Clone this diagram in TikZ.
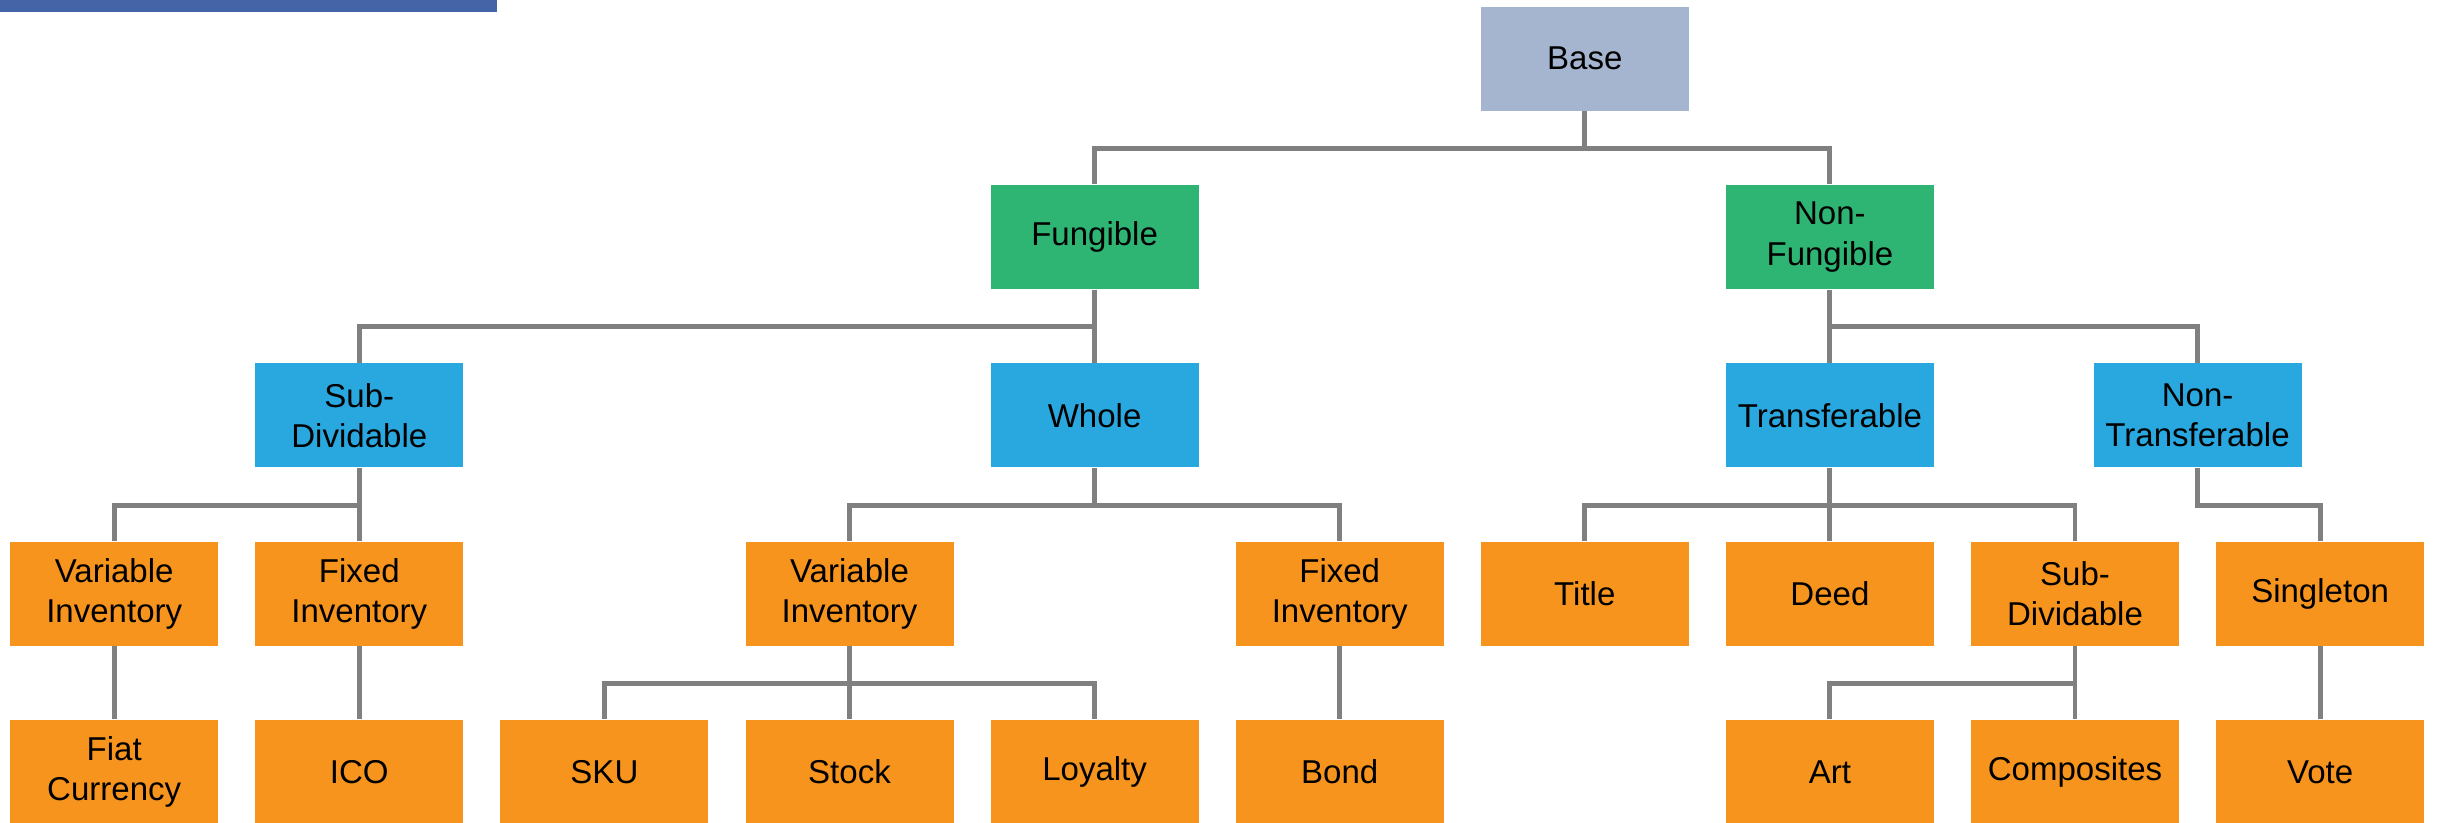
\documentclass[tikz,border=0pt]{standalone}
\usepackage{fontspec}
\setmainfont{Liberation Sans}
\usetikzlibrary{shapes, arrows, positioning}
\definecolor{basegray}{HTML}{A5B4CF}
\definecolor{kindgreen}{HTML}{2EB573}
\definecolor{modeblue}{HTML}{29A8E0}
\definecolor{leaforange}{HTML}{F7941E}
\definecolor{linegray}{HTML}{808080}
\definecolor{barblue}{HTML}{4464A7}
\tikzstyle{box} = [rectangle, minimum width=2.08cm, minimum height=1.04cm,
    inner sep=0pt, align=center, font=\fontsize{9.4}{11.4}\selectfont]
\tikzstyle{root} = [box, fill=basegray]
\tikzstyle{kind} = [box, fill=kindgreen]
\tikzstyle{mode} = [box, fill=modeblue]
\tikzstyle{leaf} = [box, fill=leaforange]
\tikzstyle{line} = [draw, linegray, line width=1.4pt]

\begin{document}
\begin{tikzpicture}[node distance = 2.451cm, auto]
        \useasboundingbox (-1.142,-2.293) rectangle (23.228,5.937);
        \fill [barblue] (-1.142,5.937) rectangle (3.828,5.817);
        % Third row
        \node [leaf] (varinvA) {Variable\\Inventory};
        \node [leaf, right of=varinvA] (fixinvA) {Fixed\\Inventory};
        \node [leaf, node distance=4.902cm, right of=fixinvA] (varinvB) {Variable\\Inventory};
        \node [leaf, node distance=4.902cm, right of=varinvB] (fixinvB) {Fixed\\Inventory};
        \node [leaf, right of=fixinvB] (title) {Title};
        \node [leaf, right of=title] (deed) {Deed};
        \node [leaf, right of=deed] (subdivB) {Sub-\\Dividable};
        \node [leaf, right of=subdivB] (singleton) {Singleton};
        % Bottom row
        \node [leaf, node distance=1.783cm, below of=varinvA] (fiat) {Fiat\\Currency};
        \node [leaf, node distance=1.783cm, below of=fixinvA] (ico) {ICO};
        \node [leaf, right of=ico] (sku) {SKU};
        \node [leaf, node distance=1.783cm, below of=varinvB] (stock) {Stock};
        \node [leaf, right of=stock] (loyalty) {Loyalty};
        \node [leaf, node distance=1.783cm, below of=fixinvB] (bond) {Bond};
        \node [leaf, node distance=1.783cm, below of=deed] (art) {Art};
        \node [leaf, node distance=1.783cm, below of=subdivB] (composites) {Composites};
        \node [leaf, node distance=1.783cm, below of=singleton] (vote) {Vote};
        % Upper rows
        \node [mode, node distance=1.783cm, above of=fixinvA] (subdivA) {Sub-\\Dividable};
        \node [mode, node distance=3.566cm, above of=loyalty] (whole) {Whole};
        \node [mode, node distance=1.783cm, above of=deed] (transferable) {Transferable};
        \node [mode, node distance=3.6765cm, right of=transferable] (nontransferable) {Non-\\Transferable};
        \node [kind, node distance=1.783cm, above of=whole] (fungible) {Fungible};
        \node [kind, node distance=1.783cm, above of=transferable] (nonfungible) {Non-\\Fungible};
        \node [root, node distance=5.349cm, above of=title] (base) {Base};
        % Draw edges
        \path [line] (base.south) -- ++(0,-0.3715) -| (fungible.north);
        \path [line] (base.south) -- ++(0,-0.3715) -| (nonfungible.north);
        \path [line] (fungible.south) -- ++(0,-0.3715) -| (subdivA.north);
        \path [line] (fungible.south) -- ++(0,-0.3715) -| (whole.north);
        \path [line] (nonfungible.south) -- ++(0,-0.3715) -| (transferable.north);
        \path [line] (nonfungible.south) -- ++(0,-0.3715) -| (nontransferable.north);
        \path [line] (subdivA.south) -- ++(0,-0.3715) -| (varinvA.north);
        \path [line] (subdivA.south) -- ++(0,-0.3715) -| (fixinvA.north);
        \path [line] (whole.south) -- ++(0,-0.3715) -| (varinvB.north);
        \path [line] (whole.south) -- ++(0,-0.3715) -| (fixinvB.north);
        \path [line] (transferable.south) -- ++(0,-0.3715) -| (title.north);
        \path [line] (transferable.south) -- ++(0,-0.3715) -| (deed.north);
        \path [line] (transferable.south) -- ++(0,-0.3715) -| (subdivB.north);
        \path [line] (nontransferable.south) -- ++(0,-0.3715) -| (singleton.north);
        \path [line] (varinvA) -- (fiat);
        \path [line] (fixinvA) -- (ico);
        \path [line] (varinvB.south) -- ++(0,-0.3715) -| (sku.north);
        \path [line] (varinvB) -- (stock);
        \path [line] (varinvB.south) -- ++(0,-0.3715) -| (loyalty.north);
        \path [line] (fixinvB) -- (bond);
        \path [line] (subdivB.south) -- ++(0,-0.3715) -| (art.north);
        \path [line] (subdivB) -- (composites);
        \path [line] (singleton) -- (vote);
    \end{tikzpicture}
\end{document}
